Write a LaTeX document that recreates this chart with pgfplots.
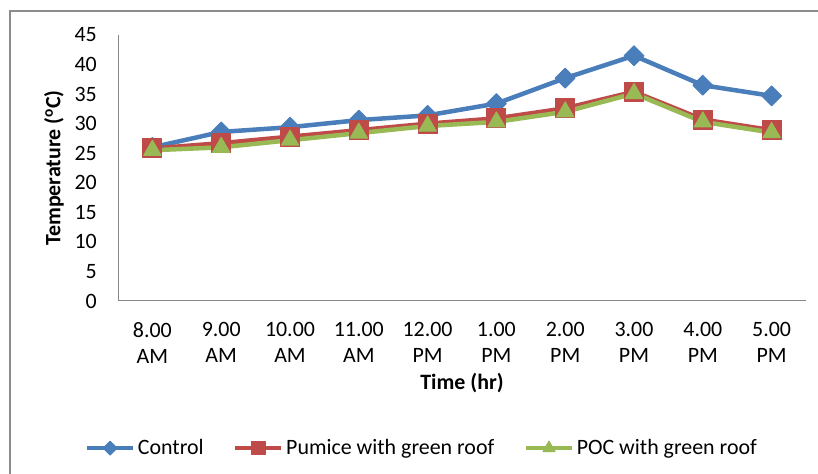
\documentclass[border=0pt]{standalone}
\usepackage{pgfplots}
\pgfplotsset{compat=1.18}
\usepackage{fontspec}
\setmainfont{Carlito}
\definecolor{cblue}{HTML}{4A7EBB}
\definecolor{cred}{HTML}{BE4B48}
\definecolor{cgreen}{HTML}{98B954}
\definecolor{axgray}{HTML}{868686}
\definecolor{framegray}{HTML}{8C8C8C}
\begin{document}
\begin{tikzpicture}[x=1bp,y=1bp]
\useasboundingbox (0,0) rectangle (818,474);
\draw[framegray, line width=2bp] (10,-10) -- (10,463) -- (830,463);
\begin{axis}[
  at={(118bp,173bp)}, anchor=south west,
  scale only axis, width=688bp, height=266bp,
  xmin=-0.5, xmax=9.5, ymin=0, ymax=45,
  axis x line=bottom, axis y line=left,
  axis line style={axgray, line width=1bp, -},
  major tick length=0pt,
  xtick={0,...,9},
  ytick={0,5,...,45},
  xticklabels={{8.00\\AM},{9.00\\AM},{10.00\\AM},{11.00\\AM},{12.00\\PM},{1.00\\PM},{2.00\\PM},{3.00\\PM},{4.00\\PM},{5.00\\PM}},
  /pgf/number format/assume math mode=true,
  tick label style={font=\fontsize{22}{26}\selectfont, black, inner sep=0pt},
  xticklabel style={align=center, anchor=north},
  yticklabel style={anchor=east},
  xticklabel shift=21bp,
  yticklabel shift=21bp,
  xlabel={Time (hr)},
  ylabel={Temperature (\textsuperscript{o}C)},
  label style={font=\bfseries\fontsize{22}{26}\selectfont},
  xlabel style={at={(axis description cs:0.5,-0.308)}, anchor=center},
  ylabel style={at={(axis description cs:-0.093,0.5)}, anchor=center},
  legend columns=3,
  legend cell align=left,
  legend style={draw=none, fill=none, at={(0.442,-0.553)}, anchor=center,
    font=\fontsize{22}{26}\selectfont,
    /tikz/every even column/.append style={column sep=27bp},
    nodes={inner sep=2.5bp}},
  legend image code/.code={
    \draw[#1] (0bp,0bp) -- (46bp,0bp);
    \draw[#1, every mark/.append style={scale=0.7}] plot coordinates {(23bp,0bp)};
  },
  every axis plot/.append style={line width=4.5bp, line join=round},
]
\addplot[cblue, mark=square*, mark size=7bp, mark options={rotate=45, line width=1bp}]
  coordinates {(0,26.0) (1,28.6) (2,29.4) (3,30.6) (4,31.4) (5,33.4) (6,37.7) (7,41.5) (8,36.5) (9,34.7)};
\addlegendentry{Control}
\addplot[cred, mark=square*, mark size=9.5bp, mark options={line width=1bp}]
  coordinates {(0,25.8) (1,26.7) (2,27.8) (3,28.9) (4,30.0) (5,30.9) (6,32.6) (7,35.4) (8,30.7) (9,28.9)};
\addlegendentry{Pumice with green roof}
\addplot[cgreen, mark=triangle*, mark size=10bp, mark options={line width=1bp}]
  coordinates {(0,25.5) (1,26.0) (2,27.2) (3,28.4) (4,29.6) (5,30.3) (6,32.0) (7,35.1) (8,30.3) (9,28.5)};
\addlegendentry{POC with green roof}
\end{axis}
\end{tikzpicture}
\end{document}
